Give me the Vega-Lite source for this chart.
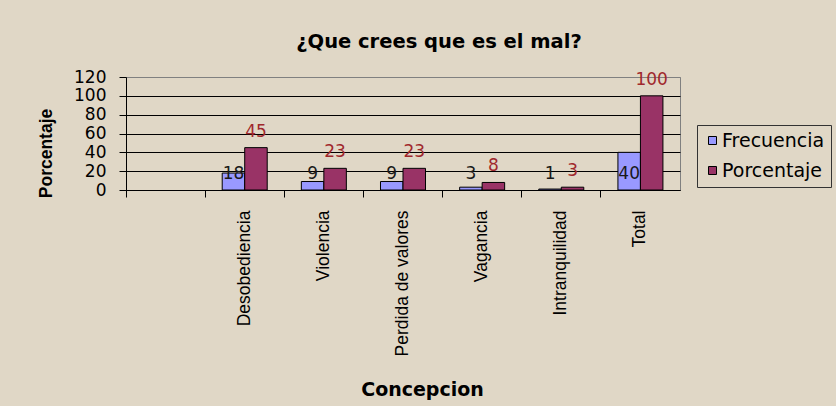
{
  "$schema": "https://vega.github.io/schema/vega-lite/v6.json",
  "width": 554,
  "height": 113,
  "autosize": {"type": "none"},
  "padding": {"left": 126, "top": 77, "right": 156, "bottom": 216},
  "background": "#E0D7C6",
  "title": {
    "text": "¿Que crees que es el mal?",
    "font": "DejaVu Sans",
    "fontSize": 19.5,
    "fontWeight": "bold",
    "color": "#000000",
    "anchor": "middle",
    "frame": "group",
    "dx": 36,
    "baseline": "alphabetic",
    "offset": 1
  },
  "data": {
    "values": [
      {"categoria": "Desobediencia", "serie": "Frecuencia", "valor": 18},
      {"categoria": "Desobediencia", "serie": "Porcentaje", "valor": 45},
      {"categoria": "Violencia", "serie": "Frecuencia", "valor": 9},
      {"categoria": "Violencia", "serie": "Porcentaje", "valor": 23},
      {"categoria": "Perdida de valores", "serie": "Frecuencia", "valor": 9},
      {"categoria": "Perdida de valores", "serie": "Porcentaje", "valor": 23},
      {"categoria": "Vagancia", "serie": "Frecuencia", "valor": 3},
      {"categoria": "Vagancia", "serie": "Porcentaje", "valor": 8},
      {"categoria": "Intranquilidad", "serie": "Frecuencia", "valor": 1},
      {"categoria": "Intranquilidad", "serie": "Porcentaje", "valor": 3},
      {"categoria": "Total", "serie": "Frecuencia", "valor": 40},
      {"categoria": "Total", "serie": "Porcentaje", "valor": 100}
    ]
  },
  "encoding": {
    "x": {
      "field": "categoria",
      "type": "nominal",
      "scale": {
        "domain": [" ", "Desobediencia", "Violencia", "Perdida de valores", "Vagancia", "Intranquilidad", "Total"],
        "paddingInner": 0,
        "paddingOuter": 0
      },
      "axis": {
        "title": "Concepcion",
        "bandPosition": 0,
        "labelAngle": -90,
        "labelFont": "Liberation Sans",
        "labelFontSize": 17.5,
        "labelColor": "#000000",
        "labelPadding": 13,
        "labelLimit": 400,
        "labelOverlap": false,
        "tickSize": 7,
        "tickColor": "#000000",
        "domainColor": "#000000",
        "titleFont": "DejaVu Sans",
        "titleFontSize": 19,
        "titleFontWeight": "bold",
        "titleColor": "#000000",
        "titleX": 296,
        "titleY": 205,
        "titleBaseline": "alphabetic",
        "grid": false
      }
    },
    "xOffset": {
      "field": "serie",
      "type": "nominal",
      "scale": {"domain": ["Frecuencia", "Porcentaje"], "paddingInner": 0, "paddingOuter": 0.7587}
    },
    "y": {
      "field": "valor",
      "type": "quantitative",
      "scale": {"domain": [0, 120], "nice": false, "zero": true},
      "axis": {
        "values": [0, 20, 40, 60, 80, 100, 120],
        "labelOverlap": false,
        "title": "Porcentaje",
        "titleFont": "Liberation Sans",
        "titleFontSize": 17.5,
        "titleFontWeight": "bold",
        "titleColor": "#000000",
        "titleX": -75,
        "titleY": 76,
        "titleAngle": -90,
        "titleAlign": "center",
        "titleBaseline": "alphabetic",
        "labelFont": "DejaVu Sans",
        "labelFontSize": 17,
        "labelColor": "#000000",
        "labelPadding": 13,
        "tickSize": 7,
        "tickColor": "#000000",
        "domainColor": "#000000",
        "grid": true,
        "gridColor": {"condition": {"test": "datum.value >= 120", "value": "#808080"}, "value": "#000000"},
        "gridOpacity": 1
      }
    }
  },
  "layer": [
    {
      "mark": {"type": "bar", "stroke": "#000000", "strokeWidth": 1},
      "encoding": {
        "color": {
          "field": "serie",
          "type": "nominal",
          "scale": {"domain": ["Frecuencia", "Porcentaje"], "range": ["#9999FF", "#993366"]},
          "legend": {
            "title": null,
            "orient": "none",
            "legendX": 571,
            "legendY": 48,
            "strokeColor": "#333333",
            "padding": 6,
            "symbolOffset": 0,
            "labelFont": "DejaVu Sans",
            "labelFontSize": 19,
            "labelColor": "#000000",
            "labelOffset": 0,
            "labelLimit": 300,
            "symbolType": "square",
            "symbolSize": 64,
            "symbolStrokeColor": "#000000",
            "symbolStrokeWidth": 1,
            "rowPadding": 10
          }
        }
      }
    },
    {
      "transform": [{"filter": "datum.serie === 'Frecuencia'"}],
      "mark": {"type": "text", "font": "DejaVu Sans", "fontSize": 17, "color": "#1a1a1a", "baseline": "middle", "align": "center"},
      "encoding": {
        "y": {"datum": 17.5},
        "text": {"field": "valor", "type": "quantitative"}
      }
    },
    {
      "transform": [{"filter": "datum.serie === 'Porcentaje'"}],
      "mark": {"type": "text", "font": "DejaVu Sans", "fontSize": 17, "color": "#A0282D", "baseline": "alphabetic", "align": "center", "dy": -11},
      "encoding": {
        "text": {"field": "valor", "type": "quantitative"}
      }
    }
  ],
  "config": {
    "view": {"stroke": "#808080", "strokeWidth": 1}
  }
}
